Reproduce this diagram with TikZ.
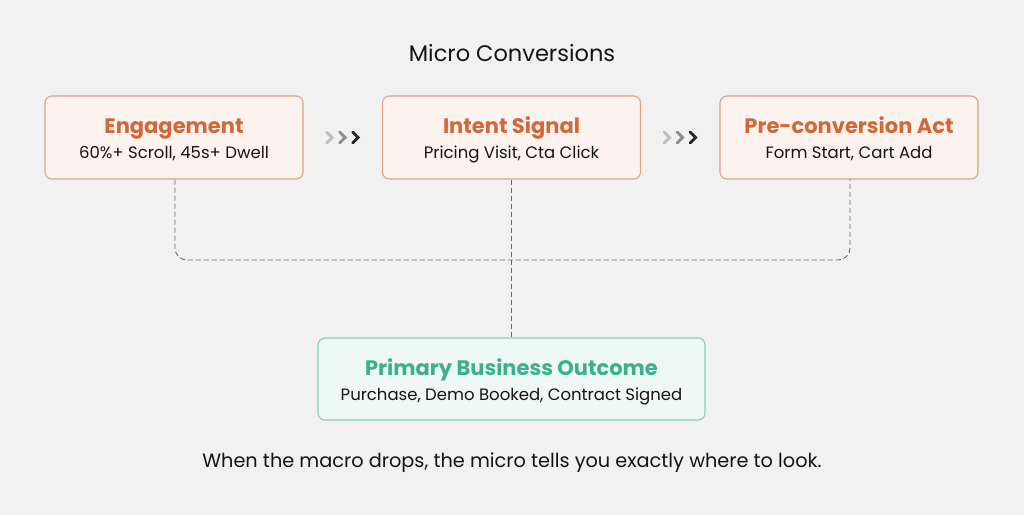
\documentclass[tikz,border=0pt]{standalone}
\usepackage{fontspec}
\setmainfont{Poppins}
\definecolor{bg}{HTML}{F1F1F1}
\definecolor{org}{HTML}{D2673A}
\definecolor{orgfill}{HTML}{FCF3EF}
\definecolor{orgline}{HTML}{E0A184}
\definecolor{grn}{HTML}{3BAF8E}
\definecolor{grnfill}{HTML}{EEF8F4}
\definecolor{grnline}{HTML}{86CDB7}
\definecolor{txt}{HTML}{141414}
\tikzset{
 obox/.style={draw=orgline,fill=orgfill,line width=1.1pt,rounded corners=7pt,minimum width=258pt,minimum height=83pt,inner sep=0pt},
 gbox/.style={draw=grnline,fill=grnfill,line width=1.1pt,rounded corners=7pt,minimum width=387pt,minimum height=82pt,inner sep=0pt},
 dline/.style={dashed,dash pattern=on 5pt off 3pt,draw=black!60,line width=0.9pt},
 chev/.style={line width=2.8pt,line cap=round,line join=miter}
}
\begin{document}
\begin{tikzpicture}[x=1pt,y=-1pt]
\fill[bg] (0,0) rectangle (1024,515);
\useasboundingbox (0,0) rectangle (1024,515);
\node[font=\fontsize{22.5}{26}\selectfont,text=txt] (title) at (512,53) {Micro Conversions};
\node[obox] (a) at (174,137.5) {};
\node[obox] (b) at (511.5,137.5) {};
\node[obox] (c) at (849,137.5) {};
\node[gbox] (d) at (511.5,379) {};
\foreach \n/\t/\s in {a/Engagement/{60\%+ Scroll, 45s+ Dwell},b/Intent Signal/{Pricing Visit, Cta Click},c/Pre-conversion Act/{Form Start, Cart Add}}{
 \node[anchor=base,font=\fontsize{21}{24}\selectfont\bfseries,text=org] (\n t) at ([yshift=4.5pt]\n.center) {\t};
 \node[anchor=base,font=\fontsize{16.5}{19}\selectfont,text=txt] (\n s) at ([yshift=-20.5pt]\n.center) {\s};
}
\node[anchor=base,font=\fontsize{21}{24}\selectfont\bfseries,text=grn] (dt) at ([yshift=4pt]d.center) {Primary Business Outcome};
\node[anchor=base,font=\fontsize{16.5}{19}\selectfont,text=txt] (ds) at ([yshift=-21pt]d.center) {Purchase, Demo Booked, Contract Signed};
\node[font=\fontsize{19.3}{22}\selectfont,text=txt] (foot) at (512,463) {When the macro drops, the micro tells you exactly where to look.};
% dashed connectors
\coordinate (j) at (511.5,260);
\draw[dline,rounded corners=12pt] ([xshift=1pt]a.south) -- ([xshift=1pt]a.south |- j) -- ([xshift=1pt]c.south |- j) -- ([xshift=1pt]c.south);
\draw[dline] (b.south) -- (d.north);
% chevrons
\foreach \x/\cc in {0/black!25,1/black!45,2/black!85}{
 \draw[chev,\cc] ([xshift=23+\x*13pt]a.east) ++(0,-5.5) -- ++(5.5,5.5) -- ++(-5.5,5.5);
 \draw[chev,\cc] ([xshift=23+\x*13pt]b.east) ++(0,-5.5) -- ++(5.5,5.5) -- ++(-5.5,5.5);
}
\end{tikzpicture}
\end{document}
